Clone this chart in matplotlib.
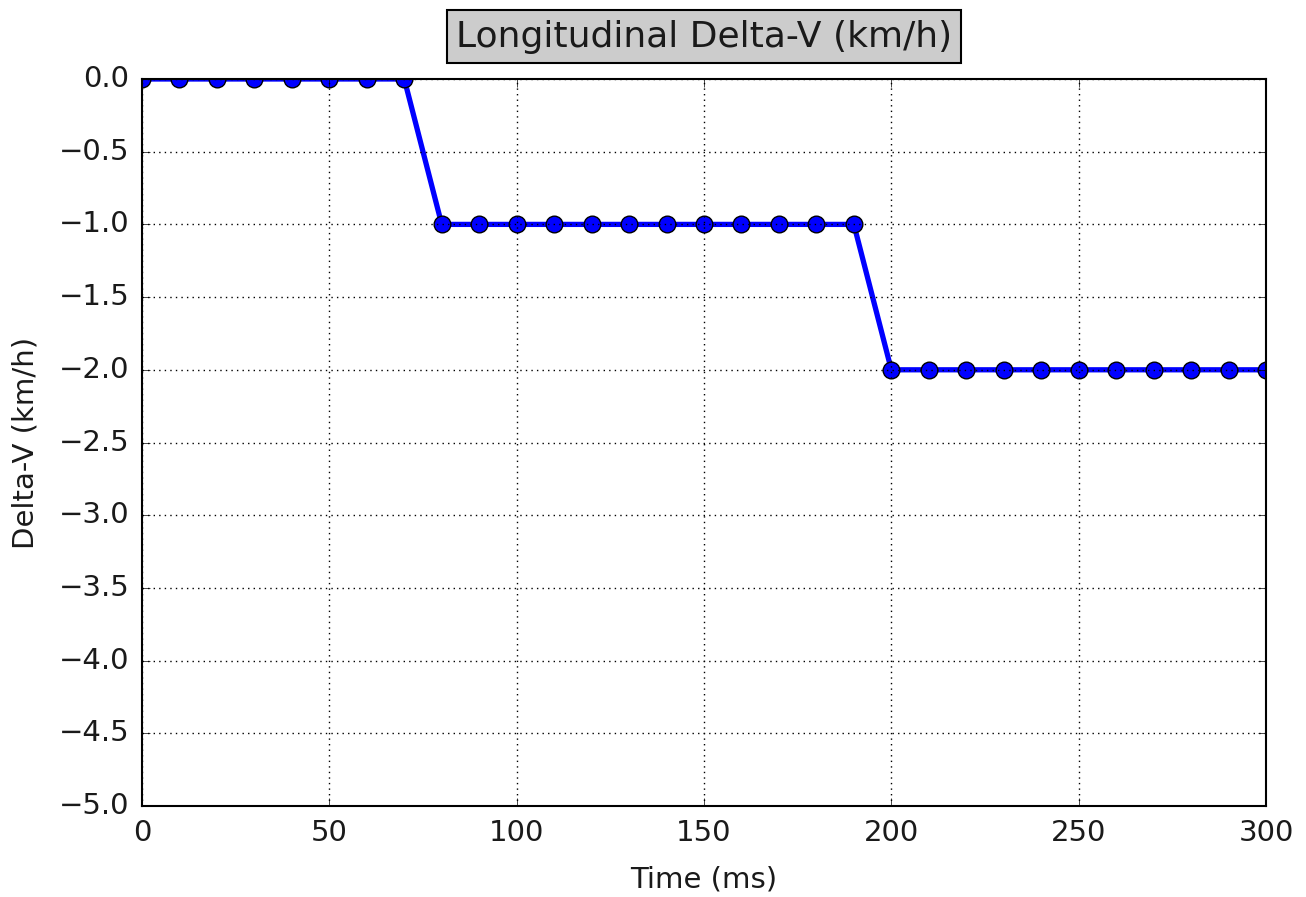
import numpy as np
import matplotlib
matplotlib.use("Agg")
import matplotlib.pyplot as plt

plt.style.use('classic')

time_ms = [0, 10, 20, 30, 40, 50, 60, 70, 80, 90, 100, 110, 120, 130, 140, 150,
           160, 170, 180, 190, 200, 210, 220, 230, 240, 250, 260, 270, 280, 290, 300]
delta_v = [0, 0, 0, 0, 0, 0, 0, 0,
           -1, -1, -1, -1, -1, -1, -1, -1, -1, -1, -1, -1,
           -2, -2, -2, -2, -2, -2, -2, -2, -2, -2, -2]

txt = '#1a1a1a'

fig = plt.figure(figsize=(13.06, 8.97), dpi=100, facecolor='white')
ax = fig.add_axes([142/1306, 1 - 806/897, (1266-142)/1306, (806-79)/897])

ax.plot(time_ms, delta_v, color='blue', linewidth=3.8, marker='o',
        markersize=12, markerfacecolor='blue', markeredgecolor='black',
        markeredgewidth=1)

ax.set_xlim(0, 300)
ax.set_ylim(-5.0, 0.0)
ax.set_yticks(np.arange(-5.0, 0.01, 0.5))
ax.grid(True, color='black', linestyle=':', linewidth=1)
ax.tick_params(labelsize=21, direction='in', length=6, labelcolor=txt, pad=9)

ax.set_xlabel('Time (ms)', fontsize=21, color=txt, labelpad=14)
ax.set_ylabel('Delta-V (km/h)', fontsize=21, color=txt, labelpad=14)
ax.set_title('Longitudinal Delta-V (km/h)', fontsize=26, y=1.035, color=txt,
             bbox=dict(facecolor='#cccccc', edgecolor='black', linewidth=1.5,
                       boxstyle='square,pad=0.26'))

for sp in ax.spines.values():
    sp.set_linewidth(1.5)

fig.savefig('out.png', dpi=100, facecolor='white')
